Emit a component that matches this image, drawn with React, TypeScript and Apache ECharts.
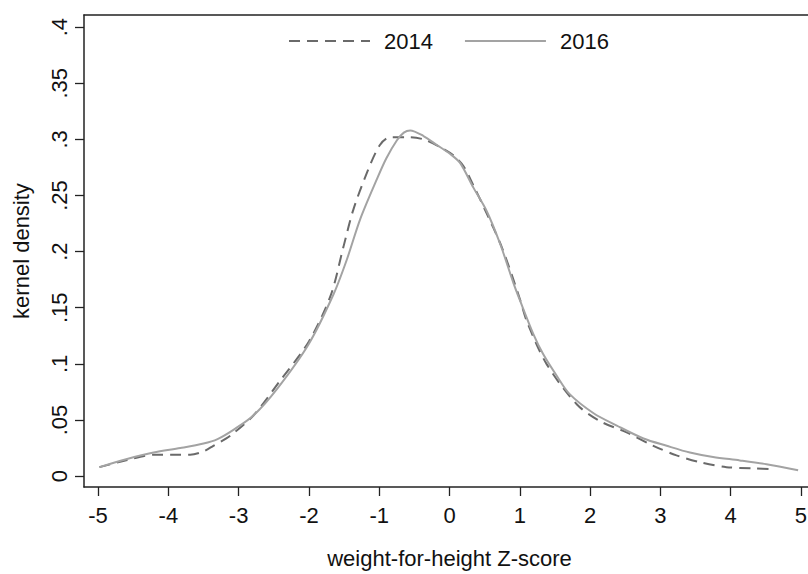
import React, { useEffect, useRef } from "react";
import * as echarts from "echarts";

const xTicks = [-5, -4, -3, -2, -1, 0, 1, 2, 3, 4, 5];
const yTicks = [0, 0.05, 0.1, 0.15, 0.2, 0.25, 0.3, 0.35, 0.4];

const x2014 = [-4.98, -4.6, -4.21, -3.95, -3.69, -3.5, -3.36, -3.12, -2.79, -2.41, -2.0, -1.69, -1.51, -1.37, -1.17, -0.99, -0.84, -0.56, -0.37, -0.13, 0.05, 0.2, 0.34, 0.5, 0.75, 1.0, 1.1, 1.38, 1.81, 2.14, 2.52, 2.9, 3.23, 3.56, 3.94, 4.32, 4.63];
const y2014 = [0.008, 0.014, 0.019, 0.019, 0.019, 0.022, 0.027, 0.036, 0.054, 0.085, 0.12, 0.161, 0.204, 0.237, 0.271, 0.295, 0.302, 0.302, 0.3, 0.293, 0.286, 0.276, 0.259, 0.238, 0.203, 0.158, 0.138, 0.1, 0.064, 0.049, 0.039, 0.027, 0.0185, 0.0124, 0.008, 0.007, 0.006];

const x2016 = [-4.98, -4.6, -4.21, -3.83, -3.5, -3.3, -3.08, -2.79, -2.45, -2.0, -1.65, -1.46, -1.27, -1.03, -0.9, -0.75, -0.65, -0.56, -0.37, -0.18, 0.01, 0.15, 0.34, 0.53, 0.72, 0.91, 1.0, 1.19, 1.33, 1.53, 1.71, 2.05, 2.38, 2.76, 3.09, 3.42, 3.75, 4.13, 4.51, 4.96];
const y2016 = [0.008, 0.015, 0.021, 0.025, 0.029, 0.033, 0.041, 0.054, 0.078, 0.118, 0.162, 0.193, 0.229, 0.265, 0.283, 0.299, 0.306, 0.308, 0.303, 0.295, 0.287, 0.279, 0.257, 0.236, 0.207, 0.172, 0.157, 0.127, 0.109, 0.089, 0.073, 0.056, 0.045, 0.0335, 0.027, 0.021, 0.017, 0.014, 0.0106, 0.0053];

const FONT = "'Liberation Sans', Arial, sans-serif";

export default function App() {
  const ref = useRef<HTMLDivElement>(null);
  useEffect(() => {
    if (!ref.current) return;
    const chart = echarts.init(ref.current, null, { renderer: "svg" });
    const fmtY = (v: number) => (v === 0 ? "0" : String(+v.toFixed(2)).replace(/^0/, ""));
    chart.setOption({
      animation: false,
      backgroundColor: "#ffffff",
      textStyle: { fontFamily: FONT },
      legend: {
        left: 288,
        top: 30,
        padding: 0,
        itemWidth: 81,
        itemHeight: 14,
        itemGap: 31,
        itemStyle: { opacity: 0 },
        textStyle: { fontSize: 22, color: "#111", fontFamily: FONT, padding: [0, 0, 0, 9] },
        data: ["2014", "2016"],
      },
      grid: { left: 84, top: 15, width: 731, height: 477 },
      xAxis: [
        {
          type: "value",
          min: -5.2,
          max: 5.2,
          splitLine: { show: false },
          axisLine: { show: true, onZero: false, lineStyle: { color: "#222", width: 1.5 } },
          axisTick: { show: true, length: 9, customValues: xTicks, lineStyle: { color: "#222", width: 1.3 } },
          axisLabel: { customValues: xTicks, fontSize: 22, color: "#111", margin: 17, fontFamily: FONT },
          name: "weight-for-height Z-score",
          nameLocation: "middle",
          nameGap: 60,
          nameTextStyle: { fontSize: 22, color: "#111", fontFamily: FONT },
        },
        {
          type: "value",
          position: "top",
          min: -5.2,
          max: 5.2,
          splitLine: { show: false },
          axisLine: { show: true, onZero: false, lineStyle: { color: "#222", width: 1.5 } },
          axisTick: { show: false },
          axisLabel: { show: false },
        },
      ],
      yAxis: [
        {
          type: "value",
          min: -0.0097,
          max: 0.4108,
          splitLine: { show: false },
          axisLine: { show: true, onZero: false, lineStyle: { color: "#222", width: 1.5 } },
          axisTick: { show: true, length: 9, customValues: yTicks, lineStyle: { color: "#222", width: 1.3 } },
          axisLabel: { customValues: yTicks, rotate: 90, fontSize: 22, color: "#111", margin: 14, formatter: fmtY, fontFamily: FONT },
          name: "kernel density",
          nameLocation: "middle",
          nameRotate: 90,
          nameGap: 52,
          nameTextStyle: { fontSize: 22, color: "#111", fontFamily: FONT },
        },
      ],
      series: [
        {
          name: "2014",
          type: "line",
          smooth: 0.3,
          symbol: "none",
          showSymbol: false,
          data: x2014.map((x, i) => [x, y2014[i]]),
          lineStyle: { color: "#6a6a6a", width: 2, type: [11, 7] },
          itemStyle: { color: "#6a6a6a" },
        },
        {
          name: "2016",
          type: "line",
          smooth: 0.3,
          symbol: "none",
          showSymbol: false,
          data: x2016.map((x, i) => [x, y2016[i]]),
          lineStyle: { color: "#a3a3a3", width: 2, type: "solid" },
          itemStyle: { color: "#a3a3a3" },
        },
      ],
    });
    return () => chart.dispose();
  }, []);
  return (
    <div style={{ position: "absolute", left: 0, top: 0, width: 808, height: 574, overflow: "hidden", background: "#fff" }}>
      <div ref={ref} style={{ width: 816, height: 574 }} />
    </div>
  );
}
